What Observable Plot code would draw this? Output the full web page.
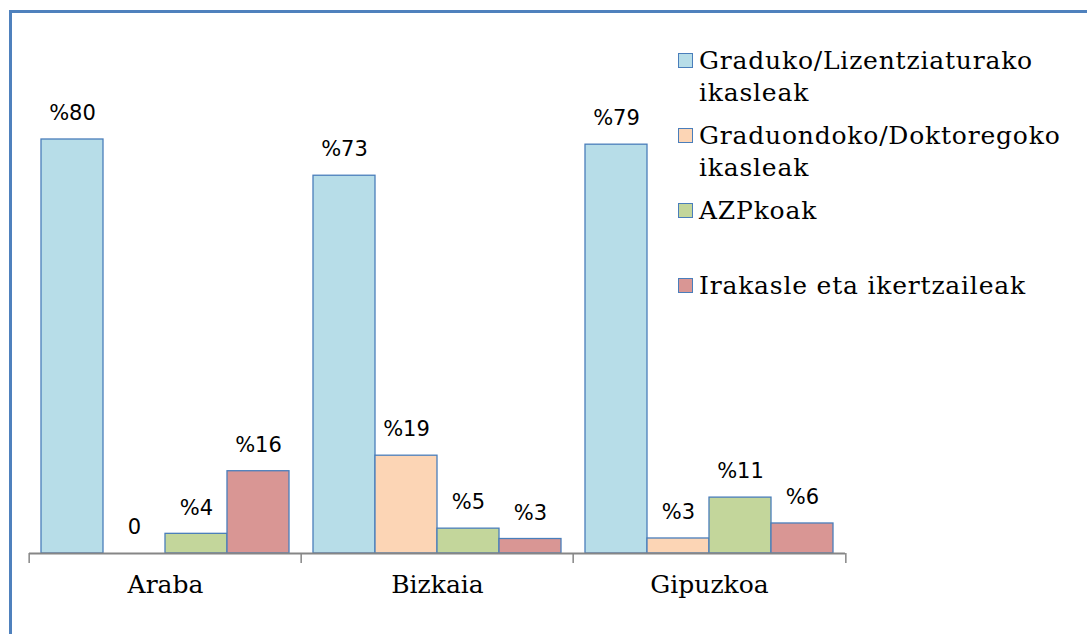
<!DOCTYPE html>
<html>
<head>
<meta charset="utf-8">
<script src="https://cdn.jsdelivr.net/npm/d3@7"></script>
<script src="https://cdn.jsdelivr.net/npm/@observablehq/plot@0.6"></script>
<style>
  html, body { margin: 0; padding: 0; background: #fff; }
  #wrap { position: relative; width: 1087px; height: 634px; overflow: hidden; background: #fff; }
  #frame { position: absolute; left: 9px; top: 10px; width: 1200px; height: 800px; border: 3px solid #4f81bd; box-sizing: border-box; }
  #chart { position: absolute; left: 0; top: 0; }
  #legend { position: absolute; left: 678px; top: 45px; width: 400px; font-family: "DejaVu Serif", serif; font-size: 25px; letter-spacing: 0.8px; color: #000; }
  .item { display: flex; align-items: flex-start; min-height: 64px; margin-bottom: 11px; }
  .sw { flex: none; width: 13px; height: 13px; border: 1.5px solid #4a7ebb; margin-top: 8px; margin-right: 6px; }
  .lab { line-height: 32px; max-width: 380px; }
</style>
</head>
<body>
<div id="wrap">
  <div id="frame"></div>
  <div id="chart"></div>
  <div id="legend"></div>
</div>
<script>
// Data
const groups = ["Araba", "Bizkaia", "Gipuzkoa"];
const series = [
  "Graduko/Lizentziaturako ikasleak",
  "Graduondoko/Doktoregoko ikasleak",
  "AZPkoak",
  "Irakasle eta ikertzaileak"
];
const colors = ["#b7dde8", "#fcd5b5", "#c3d69b", "#d99694"];
const arabaValues = [80, 0, 3.8, 15.9];
const bizkaiaValues = [73, 18.9, 4.8, 2.8];
const gipuzkoaValues = [79, 2.9, 10.8, 5.8];
const arabaLabels = ["%80", "0", "%4", "%16"];
const bizkaiaLabels = ["%73", "%19", "%5", "%3"];
const gipuzkoaLabels = ["%79", "%3", "%11", "%6"];

const valuesByGroup = [arabaValues, bizkaiaValues, gipuzkoaValues];
const labelsByGroup = [arabaLabels, bizkaiaLabels, gipuzkoaLabels];
const rows = [];
groups.forEach((g, gi) => series.forEach((s, si) => {
  rows.push({group: g, series: s, value: valuesByGroup[gi][si], label: labelsByGroup[gi][si]});
}));

const W = 1087, H = 634;
const mL = 28, mR = 241;
const halfBand = (W - mL - mR) / groups.length / 2;
const axisColor = "#868686";

const chart = Plot.plot({
  width: W,
  height: H,
  marginLeft: mL,
  marginRight: mR,
  marginTop: 139,
  marginBottom: 81,
  style: {background: "transparent", overflow: "visible"},
  fx: {domain: groups, padding: 0, axis: null, label: null},
  x: {domain: series, paddingInner: 0, paddingOuter: 0.189, axis: null},
  y: {domain: [0, 80], axis: null},
  color: {domain: series, range: colors},
  marks: [
    Plot.barY(rows.filter(d => d.value > 0), {
      fx: "group", x: "series", y: "value", fill: "series",
      stroke: "#4a7ebb", strokeWidth: 1.3, insetLeft: 0, insetRight: 0
    }),
    Plot.ruleY([0], {stroke: axisColor, strokeWidth: 2}),
    Plot.text(rows, {
      fx: "group", x: "series", y: "value", text: "label", dy: -26,
      fontSize: 21, fontFamily: "DejaVu Sans", fill: "#000"
    }),
    Plot.axisFx({anchor: "bottom", tickSize: 10, tickFormat: () => "", dx: -halfBand, stroke: axisColor, strokeWidth: 1.5}),
    Plot.axisFx({anchor: "bottom", ticks: [groups[groups.length - 1]], tickSize: 10, tickFormat: () => "", dx: halfBand, stroke: axisColor, strokeWidth: 1.5}),
    Plot.axisFx({anchor: "bottom", tickSize: 0, tickPadding: 22, fontSize: 25, fontFamily: "DejaVu Serif", fill: "#000", label: null})
  ]
});
document.getElementById("chart").appendChild(chart);

// Legend
const legend = document.getElementById("legend");
series.forEach((s, i) => {
  const item = document.createElement("div");
  item.className = "item";
  const sw = document.createElement("div");
  sw.className = "sw";
  sw.style.background = colors[i];
  const lab = document.createElement("div");
  lab.className = "lab";
  lab.textContent = s;
  item.appendChild(sw);
  item.appendChild(lab);
  legend.appendChild(item);
});
</script>
</body>
</html>
